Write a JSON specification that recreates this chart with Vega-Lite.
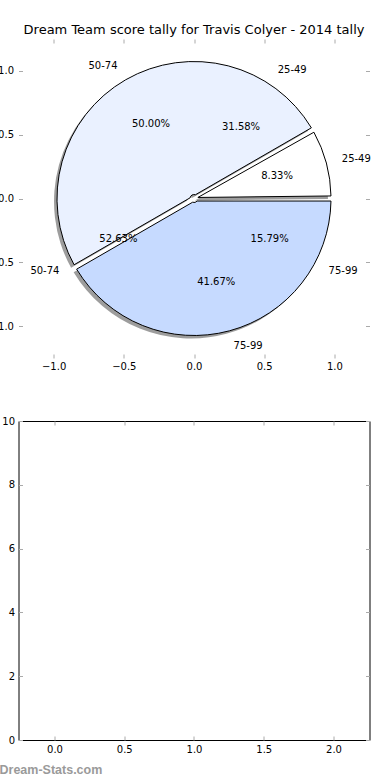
{
  "$schema": "https://vega.github.io/schema/vega-lite/v6.json",
  "background": "white",
  "padding": {"left": -11.5, "top": 23, "right": 0, "bottom": 0},
  "bounds": "flush",
  "spacing": 63,
  "config": {
    "font": "DejaVu Sans",
    "view": {"stroke": null},
    "axis": {
      "grid": false,
      "domain": false,
      "tickColor": "#aaaaaa",
      "tickSize": -4,
      "tickWidth": 1,
      "labelFont": "DejaVu Sans",
      "labelFontSize": 10,
      "labelColor": "#000000",
      "labelPadding": 7,
      "title": null
    }
  },
  "datasets": {
    "pie1": [
      {"label": "25-49", "share": 0.0833},
      {"label": "50-74", "share": 0.5},
      {"label": "75-99", "share": 0.4167}
    ],
    "pie2": [
      {"label": "25-49", "share": 0.3158},
      {"label": "50-74", "share": 0.5263},
      {"label": "75-99", "share": 0.1579}
    ],
    "bars": [
      {"x": 0, "y": 0},
      {"x": 1, "y": 0},
      {"x": 2, "y": 0}
    ]
  },
  "vconcat": [
    {
      "width": 351,
      "height": 319,
      "title": {
        "text": "Dream Team score tally for Travis Colyer - 2014 tally",
        "fontSize": 13,
        "fontWeight": "normal",
        "font": "DejaVu Sans",
        "color": "#000000",
        "offset": 2
      },
      "encoding": {
        "x": {"datum": 0, "type": "quantitative", "scale": {"domain": [-1.25, 1.25], "nice": false, "zero": false}, "axis": null},
        "y": {"datum": 0, "type": "quantitative", "scale": {"domain": [-1.25, 1.25], "nice": false, "zero": false}, "axis": null},
        "theta": {"field": "share", "type": "quantitative", "stack": true, "scale": {"domain": [0, 1], "range": [1.5707963, -4.712389]}},
        "detail": {"field": "label"},
        "order": {"field": "label", "sort": "ascending"}
      },
      "layer": [
        {
          "data": {"name": "pie1"},
          "mark": {"type": "arc", "outerRadius": 137, "innerRadius": 4, "padAngle": 0.037, "xOffset": -3, "yOffset": 3, "fill": "#4d4d4d", "opacity": 0.55},
          "encoding": {
            "x": {"datum": 0, "type": "quantitative", "scale": {"domain": [-1.25, 1.25], "nice": false, "zero": false}, "axis": {"orient": "bottom", "values": [-1, -0.5, 0, 0.5, 1], "format": ".1f", "labelPadding": 7}},
            "y": {"datum": 0, "type": "quantitative", "scale": {"domain": [-1.25, 1.25], "nice": false, "zero": false}, "axis": {"orient": "left", "values": [-1, -0.5, 0, 0.5, 1], "format": ".1f", "labelPadding": 9}}
          }
        },
        {
          "data": {"name": "pie1"},
          "mark": {"type": "arc", "outerRadius": 137, "innerRadius": 4, "padAngle": 0.037, "stroke": "#000000", "strokeWidth": 1},
          "encoding": {
            "color": {"field": "label", "type": "nominal", "scale": {"domain": ["25-49", "50-74", "75-99"], "range": ["#ffffff", "#eaf1ff", "#c6daff"]}, "legend": null}
          }
        },
        {
          "data": {"name": "pie1"},
          "mark": {"type": "text", "radius": 86, "fontSize": 10, "font": "DejaVu Sans", "color": "#000000"},
          "encoding": {"text": {"field": "share", "type": "quantitative", "format": ".2%"}}
        },
        {
          "data": {"name": "pie1"},
          "mark": {"type": "text", "radius": 153, "align": "left", "baseline": "middle", "fontSize": 10, "font": "DejaVu Sans", "color": "#000000"},
          "encoding": {"text": {"condition": {"test": "datum.label !== '50-74'", "field": "label"}, "value": ""}}
        },
        {
          "data": {"name": "pie1"},
          "mark": {"type": "text", "radius": 153, "align": "right", "baseline": "middle", "fontSize": 10, "font": "DejaVu Sans", "color": "#000000"},
          "encoding": {"text": {"condition": {"test": "datum.label === '50-74'", "field": "label"}, "value": ""}}
        },
        {
          "data": {"name": "pie2"},
          "mark": {"type": "text", "radius": 86, "fontSize": 10, "font": "DejaVu Sans", "color": "#000000"},
          "encoding": {"text": {"field": "share", "type": "quantitative", "format": ".2%"}}
        },
        {
          "data": {"name": "pie2"},
          "mark": {"type": "text", "radius": 153, "align": "left", "baseline": "middle", "fontSize": 10, "font": "DejaVu Sans", "color": "#000000"},
          "encoding": {
            "text": {"condition": {"test": "datum.label !== '50-74'", "field": "label"}, "value": ""},
            "x": {"datum": 0, "type": "quantitative", "scale": {"domain": [-1.25, 1.25], "nice": false, "zero": false}, "axis": {"orient": "top", "values": [-1, -0.5, 0, 0.5, 1], "labels": false}},
            "y": {"datum": 0, "type": "quantitative", "scale": {"domain": [-1.25, 1.25], "nice": false, "zero": false}, "axis": {"orient": "right", "values": [-1, -0.5, 0, 0.5, 1], "labels": false}}
          }
        },
        {
          "data": {"name": "pie2"},
          "mark": {"type": "text", "radius": 153, "align": "right", "baseline": "middle", "fontSize": 10, "font": "DejaVu Sans", "color": "#000000"},
          "encoding": {"text": {"condition": {"test": "datum.label === '50-74'", "field": "label"}, "value": ""}}
        }
      ],
      "resolve": {"axis": {"x": "independent", "y": "independent"}}
    },
    {
      "width": 351,
      "height": 319,
      "view": {"stroke": "#000000", "strokeWidth": 1},
      "title": {
        "text": "Dream-Stats.com",
        "orient": "bottom",
        "anchor": "start",
        "frame": "group",
        "dx": -19,
        "offset": 10,
        "fontSize": 12.5,
        "fontWeight": "bold",
        "font": "Liberation Sans",
        "color": "#9a9a9a"
      },
      "data": {"name": "bars"},
      "layer": [
        {
          "mark": {"type": "bar", "width": 10},
          "encoding": {
            "x": {"field": "x", "type": "quantitative", "scale": {"domain": [-0.2222, 2.2222], "nice": false, "zero": false}, "axis": {"orient": "bottom", "values": [0, 0.5, 1, 1.5, 2], "format": ".1f", "labelPadding": 8}},
            "y": {"field": "y", "type": "quantitative", "scale": {"domain": [0, 10], "nice": false}, "axis": {"orient": "left", "values": [0, 2, 4, 6, 8, 10], "format": "d", "labelPadding": 8}}
          }
        },
        {
          "mark": {"type": "bar", "width": 10},
          "encoding": {
            "x": {"field": "x", "type": "quantitative", "scale": {"domain": [-0.2222, 2.2222], "nice": false, "zero": false}, "axis": {"orient": "top", "values": [0, 0.5, 1, 1.5, 2], "labels": false}},
            "y": {"field": "y", "type": "quantitative", "scale": {"domain": [0, 10], "nice": false}, "axis": {"orient": "right", "values": [0, 2, 4, 6, 8, 10], "labels": false}}
          }
        }
      ],
      "resolve": {"axis": {"x": "independent", "y": "independent"}}
    }
  ]
}
